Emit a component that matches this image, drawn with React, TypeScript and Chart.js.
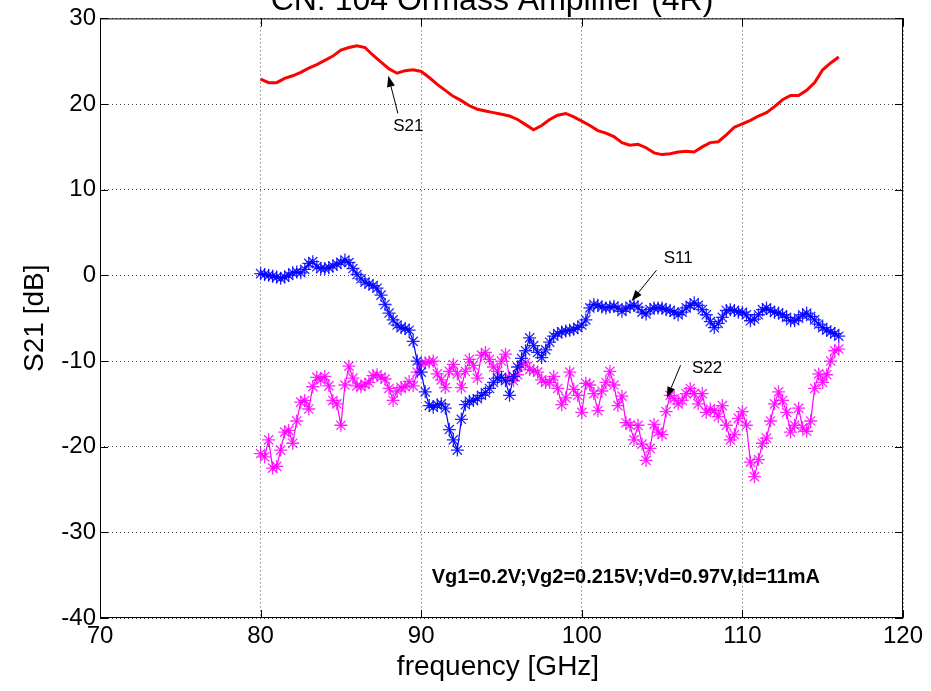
import React, { useEffect, useRef } from "react";
import { Chart, registerables } from "chart.js";

Chart.register(...registerables);

// ---- Data ---------------------------------------------------------------

const TITLE = "CN: 104 Ormass Amplifier (4R)";
const X_LABEL = "frequency [GHz]";
const Y_LABEL = "S21 [dB]";
const BIAS_NOTE = "Vg1=0.2V;Vg2=0.215V;Vd=0.97V,Id=11mA";

const X_MIN = 70;
const X_MAX = 120;
const X_STEP = 10;
const Y_MIN = -40;
const Y_MAX = 30;
const Y_STEP = 10;

// S21 sweep: 80 .. 116 GHz, 0.5 GHz spacing
const S21_START = 80;
const S21_STEP = 0.5;
const s21Values = [
  22.9, 22.5, 22.5, 23.0, 23.3, 23.7, 24.2, 24.6, 25.1, 25.6,
  26.3, 26.6, 26.8, 26.6, 25.7, 24.9, 24.1, 23.6, 23.9, 24.0,
  23.8, 23.1, 22.3, 21.6, 20.9, 20.4, 19.8, 19.4, 19.2, 19.0,
  18.8, 18.6, 18.2, 17.6, 17.0, 17.5, 18.2, 18.7, 18.9, 18.5,
  18.0, 17.5, 16.9, 16.6, 16.2, 15.5, 15.2, 15.3, 14.9, 14.3,
  14.1, 14.2, 14.4, 14.5, 14.4, 15.0, 15.5, 15.6, 16.4, 17.3,
  17.7, 18.1, 18.6, 19.0, 19.7, 20.5, 21.0, 21.0, 21.6, 22.5,
  24.0, 24.8, 25.5,
];

// S11 / S22 sweep: 80 .. 116 GHz, 0.25 GHz spacing
const SP_START = 80;
const SP_STEP = 0.25;
const s11Values = [
  0.2, 0.1, 0.0, -0.1, -0.2, -0.35, -0.2, 0.0, 0.3, 0.4,
  0.3, 0.7, 1.4, 1.6, 1.0, 0.8, 0.8, 0.9, 1.1, 1.3,
  1.5, 1.8, 1.5, 0.8, 0.1, -0.4, -0.8, -1.0, -1.2, -1.5,
  -2.3, -3.4, -4.4, -5.2, -5.8, -6.1, -6.2, -6.4, -7.7, -10.0,
  -11.3, -13.6, -15.2, -15.4, -15.1, -15.0, -15.5, -18.0, -19.2, -20.4,
  -16.8, -15.1, -14.7, -14.6, -14.4, -14.0, -13.7, -13.2, -12.5, -12.0,
  -11.9, -12.3, -14.0, -11.8, -10.7, -9.7, -8.8, -7.3, -8.2, -9.0,
  -9.6, -8.7, -7.8, -7.1, -6.8, -6.6, -6.5, -6.4, -6.3, -6.1,
  -5.8, -5.2, -3.8, -3.4, -3.5, -3.7, -3.8, -3.7, -3.6, -3.8,
  -4.2, -3.9, -3.6, -3.5, -3.7, -4.3, -4.5, -4.0, -3.8, -3.8,
  -3.8, -4.0, -4.1, -4.3, -4.6, -4.3, -3.8, -3.5, -3.2, -3.5,
  -4.0, -4.6, -5.4, -6.1, -5.6, -4.9, -4.1, -4.0, -4.1, -4.3,
  -4.3, -4.6, -5.3, -5.1, -4.6, -4.0, -3.8, -4.1, -4.3, -4.4,
  -4.6, -4.9, -5.3, -5.3, -5.0, -4.6, -4.4, -4.8, -5.2, -5.7,
  -6.1, -6.4, -6.6, -6.8, -7.1,
];
const s22Values = [
  -20.8, -21.2, -19.2, -22.5, -22.3, -20.4, -18.3, -18.1, -19.6, -17.0,
  -14.8, -14.6, -15.6, -13.0, -11.9, -12.2, -11.8, -12.9, -14.6, -15.0,
  -17.5, -12.8, -10.6, -12.0, -12.9, -13.0, -12.7, -12.5, -11.7, -11.6,
  -11.9, -12.1, -13.2, -14.6, -13.5, -13.1, -13.0, -12.4, -12.9, -11.3,
  -10.4, -10.2, -10.1, -10.0, -11.5, -12.2, -13.1, -11.2, -10.4, -11.5,
  -13.1, -11.2, -9.8, -10.5, -12.0, -9.3, -9.0, -9.8, -10.7, -11.2,
  -10.0, -9.2, -12.0, -12.3, -11.6, -10.5, -10.2, -11.0, -11.1, -11.3,
  -12.2, -12.5, -12.5, -11.8, -13.2, -15.1, -14.3, -11.3, -13.3, -14.0,
  -16.0, -12.6, -12.8, -13.8, -15.8, -13.5, -12.5, -11.2, -12.8, -15.2,
  -14.1, -17.2, -17.5, -19.2, -17.5, -19.7, -21.6, -20.2, -17.4, -18.3,
  -18.6, -15.9, -14.0, -14.4, -15.0, -14.6, -13.8, -13.2, -13.8, -15.0,
  -13.8, -16.0, -15.6, -15.8, -16.5, -15.2, -17.5, -19.2, -18.6, -16.7,
  -15.9, -17.5, -21.8, -23.5, -21.5, -19.6, -19.0, -17.0, -15.0, -13.6,
  -14.6, -16.0, -18.3, -17.5, -15.5, -17.8, -18.2, -17.0, -13.2, -11.5,
  -12.5, -11.6, -10.0, -8.8, -8.6,
];

// Curve labels: text position and arrow (tail -> head), in data units
const curveLabels = [
  { text: "S21", tx: 89.2, ty: 17.4, ax0: 88.55, ay0: 18.9, ax1: 87.95, ay1: 23.3 },
  { text: "S11", tx: 106.0, ty: 2.0, ax0: 104.65, ay0: 0.6, ax1: 103.1, ay1: -3.0 },
  { text: "S22", tx: 107.8, ty: -10.8, ax0: 106.15, ay0: -10.5, ax1: 105.3, ay1: -14.3 },
];
const NOTE_X = 90.65;
const NOTE_Y = -35.3;

// ---- Helpers ------------------------------------------------------------

const FONT = "'Liberation Sans', Arial, Helvetica, sans-serif";

function toPoints(start: number, step: number, values: number[]) {
  return values.map((v, i) => ({ x: start + i * step, y: v }));
}

const frame = {
  id: "frame",
  afterDatasetsDraw(chart: any) {
    const { ctx, chartArea: a, scales } = chart;
    const xs = scales.x;
    const ys = scales.y;
    ctx.save();

    // box around the axes
    ctx.strokeStyle = "#000";
    ctx.lineWidth = 1;
    ctx.setLineDash([]);
    ctx.strokeRect(a.left + 0.5, a.top + 0.5, a.right - a.left - 1, a.bottom - a.top - 1);

    // inward tick marks on all four sides
    const tl = 8;
    ctx.beginPath();
    for (let v = X_MIN; v <= X_MAX; v += X_STEP) {
      const px = Math.round(xs.getPixelForValue(v)) + 0.5;
      ctx.moveTo(px, a.bottom);
      ctx.lineTo(px, a.bottom - tl);
      ctx.moveTo(px, a.top);
      ctx.lineTo(px, a.top + tl);
    }
    for (let v = Y_MIN; v <= Y_MAX; v += Y_STEP) {
      const py = Math.round(ys.getPixelForValue(v)) + 0.5;
      ctx.moveTo(a.left, py);
      ctx.lineTo(a.left + tl, py);
      ctx.moveTo(a.right, py);
      ctx.lineTo(a.right - tl, py);
    }
    ctx.stroke();

    // curve labels with arrows
    ctx.fillStyle = "#000";
    ctx.font = `17px ${FONT}`;
    ctx.textAlign = "center";
    ctx.textBaseline = "middle";
    for (const c of curveLabels) {
      ctx.fillText(c.text, xs.getPixelForValue(c.tx), ys.getPixelForValue(c.ty));
      const x0 = xs.getPixelForValue(c.ax0);
      const y0 = ys.getPixelForValue(c.ay0);
      const x1 = xs.getPixelForValue(c.ax1);
      const y1 = ys.getPixelForValue(c.ay1);
      const ang = Math.atan2(y1 - y0, x1 - x0);
      const hl = 11;
      const hw = 4;
      const bx = x1 - hl * Math.cos(ang);
      const by = y1 - hl * Math.sin(ang);
      ctx.beginPath();
      ctx.moveTo(x0, y0);
      ctx.lineTo(bx, by);
      ctx.stroke();
      ctx.beginPath();
      ctx.moveTo(x1, y1);
      ctx.lineTo(bx + hw * Math.sin(ang), by - hw * Math.cos(ang));
      ctx.lineTo(bx - hw * Math.sin(ang), by + hw * Math.cos(ang));
      ctx.closePath();
      ctx.fill();
    }

    // bias conditions
    ctx.font = `bold 20px ${FONT}`;
    ctx.textAlign = "left";
    ctx.textBaseline = "middle";
    ctx.fillText(BIAS_NOTE, xs.getPixelForValue(NOTE_X), ys.getPixelForValue(NOTE_Y));

    // axis titles
    ctx.font = `28px ${FONT}`;
    ctx.textAlign = "center";
    ctx.textBaseline = "middle";
    ctx.fillText(X_LABEL, 498, 667);
    ctx.save();
    ctx.translate(35, (a.top + a.bottom) / 2);
    ctx.rotate(-Math.PI / 2);
    ctx.fillText(Y_LABEL, 0, 0);
    ctx.restore();

    // plot title (sits above the canvas top edge)
    ctx.font = `32px ${FONT}`;
    ctx.textAlign = "center";
    ctx.textBaseline = "alphabetic";
    ctx.fillText(TITLE, 492, 10);

    ctx.restore();
  },
};

// ---- Component ----------------------------------------------------------

export default function App() {
  const canvasRef = useRef<HTMLCanvasElement | null>(null);

  useEffect(() => {
    const canvas = canvasRef.current;
    if (!canvas) return;

    const tickFont = { family: FONT, size: 24 };
    const gridStyle = { color: "rgba(0,0,0,0.7)", lineWidth: 1, drawTicks: false };

    const chart = new Chart(canvas, {
      type: "line",
      data: {
        datasets: [
          {
            label: "S21",
            data: toPoints(S21_START, S21_STEP, s21Values),
            borderColor: "#ff0000",
            borderWidth: 3,
            pointRadius: 0,
            tension: 0,
          },
          {
            label: "S11",
            data: toPoints(SP_START, SP_STEP, s11Values),
            borderColor: "#0000ff",
            borderWidth: 1.2,
            pointStyle: "star",
            pointRadius: 6.5,
            pointBorderColor: "rgba(0,0,255,0.85)",
            pointBackgroundColor: "#0000ff",
            pointBorderWidth: 1.3,
            tension: 0,
          },
          {
            label: "S22",
            data: toPoints(SP_START, SP_STEP, s22Values),
            borderColor: "#ff00ff",
            borderWidth: 1.2,
            pointStyle: "star",
            pointRadius: 6.5,
            pointBorderColor: "rgba(255,0,255,0.85)",
            pointBackgroundColor: "#ff00ff",
            pointBorderWidth: 1.3,
            tension: 0,
          },
        ],
      },
      options: {
        responsive: false,
        animation: false,
        layout: { padding: { top: 13, right: 28, left: 0, bottom: 0 } },
        plugins: {
          legend: { display: false },
          tooltip: { enabled: false },
          title: { display: false },
        },
        scales: {
          x: {
            type: "linear",
            min: X_MIN,
            max: X_MAX,
            ticks: { stepSize: X_STEP, font: tickFont, color: "#000", padding: 4, maxRotation: 0 },
            grid: gridStyle,
            border: { display: false, dash: [1, 3] },
            afterFit: (s: any) => {
              s.height = 73;
            },
          },
          y: {
            type: "linear",
            min: Y_MIN,
            max: Y_MAX,
            ticks: { stepSize: Y_STEP, font: tickFont, color: "#000", padding: 4 },
            grid: gridStyle,
            border: { display: false, dash: [1, 3] },
            afterFit: (s: any) => {
              s.width = 100;
            },
          },
        },
      },
      plugins: [frame],
    } as any);

    return () => chart.destroy();
  }, []);

  return (
    <div style={{ position: "absolute", left: 0, top: 0, width: 931, height: 691, background: "#fff" }}>
      <canvas ref={canvasRef} width={931} height={691} />
    </div>
  );
}
